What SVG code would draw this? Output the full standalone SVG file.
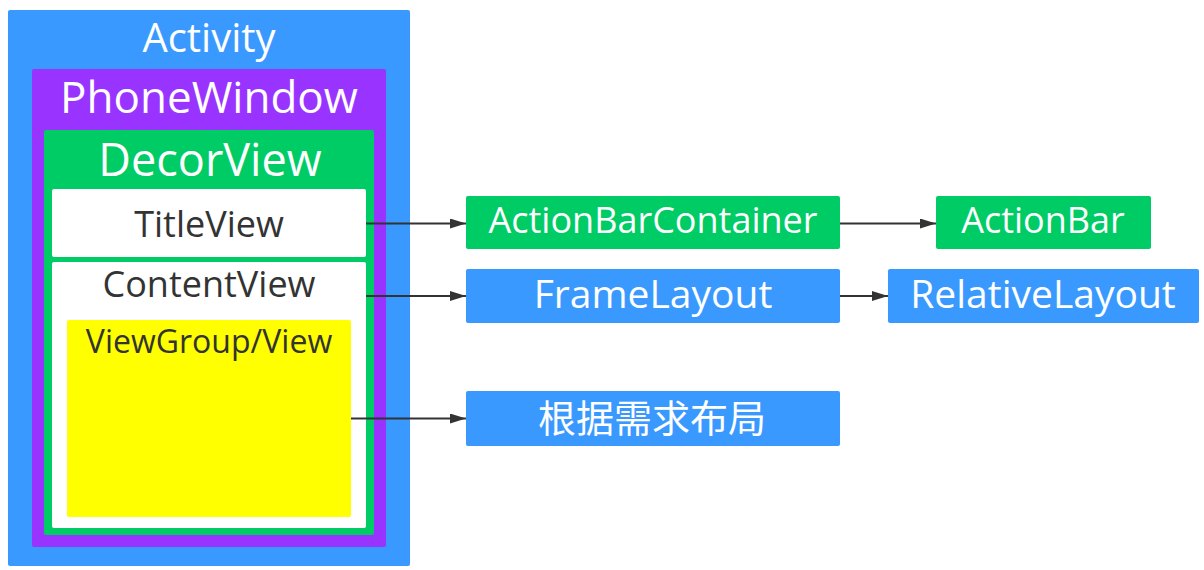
<svg xmlns="http://www.w3.org/2000/svg" width="1204" height="570" viewBox="0 0 1204 570">
<style>
text{font-family:"Open Sans","Noto Sans","Noto Sans CJK SC",sans-serif;text-anchor:middle}
.w{fill:#ffffff}
.d{fill:#333333}
.blue{fill:#3999FF}
.purple{fill:#9933FF}
.green{fill:#00CC66}
.white{fill:#ffffff}
.yellow{fill:#FFFF00}
.conn{stroke:#333333;stroke-width:2;fill:none;marker-end:url(#arr)}
</style>
<defs>
<marker id="arr" viewBox="0 0 16 10" refX="16" refY="5" markerWidth="16" markerHeight="10" markerUnits="userSpaceOnUse" orient="auto">
<path d="M0,0 L16,5 L0,10 z" fill="#333333"/>
</marker>
</defs>
<g id="activity"><rect class="blue" x="8" y="10" width="402" height="556" rx="2"/><text class="w" x="209" y="52" font-size="40">Activity</text></g>
<g id="phonewindow"><rect class="purple" x="32" y="69" width="354" height="478" rx="2"/><text class="w" x="209" y="113" font-size="44">PhoneWindow</text></g>
<g id="decorview"><rect class="green" x="44" y="130" width="330" height="405" rx="2"/><text class="w" x="210" y="176" font-size="45">DecorView</text></g>
<g id="titleview"><rect class="white" x="52" y="189" width="314" height="68" rx="2"/><text class="d" x="209" y="237" font-size="36">TitleView</text></g>
<g id="contentview"><rect class="white" x="52" y="262" width="314" height="266" rx="2"/><text class="d" x="209" y="297" font-size="36">ContentView</text></g>
<g id="viewgroup"><rect class="yellow" x="67" y="320" width="284" height="197" rx="2"/><text class="d" x="209" y="353" font-size="32">ViewGroup/View</text></g>
<g id="actionbarcontainer"><rect class="green" x="466" y="196" width="374" height="53" rx="2"/><text class="w" x="653" y="233" font-size="36">ActionBarContainer</text></g>
<g id="actionbar"><rect class="green" x="936" y="196" width="215" height="53" rx="2"/><text class="w" x="1043" y="233" font-size="36">ActionBar</text></g>
<g id="framelayout"><rect class="blue" x="466" y="269" width="374" height="54" rx="2"/><text class="w" x="653" y="308" font-size="39">FrameLayout</text></g>
<g id="relativelayout"><rect class="blue" x="888" y="269" width="311" height="54" rx="2"/><text class="w" x="1043" y="308" font-size="39">RelativeLayout</text></g>
<g id="custom"><rect class="blue" x="466" y="391" width="374" height="55" rx="2"/><text class="w" x="652" y="432" font-size="38">根据需求布局</text></g>
<g id="connectors">
<path class="conn" d="M366,223.5 L466,223.5"/>
<path class="conn" d="M366,296 L466,296"/>
<path class="conn" d="M351,418.5 L466,418.5"/>
<path class="conn" d="M840,223.5 L936,223.5"/>
<path class="conn" d="M840,296 L888,296"/>
</g>
</svg>
